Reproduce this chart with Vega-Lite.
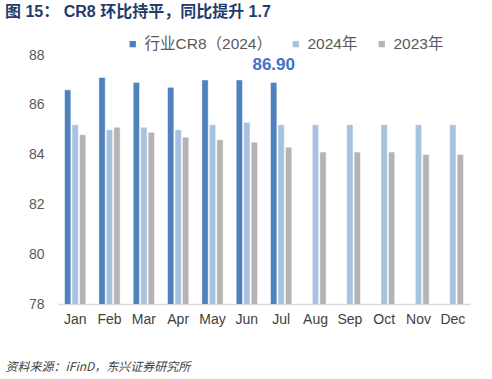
{
  "$schema": "https://vega.github.io/schema/vega-lite/v6.json",
  "autosize": "none",
  "width": 412,
  "height": 249,
  "padding": {"left": 58, "top": 55, "right": 22, "bottom": 75},
  "background": "white",
  "config": {
    "font": "Liberation Sans, Noto Sans CJK SC",
    "view": {"stroke": null}
  },
  "title": {
    "text": "图 15：  CR8 环比持平，同比提升 1.7",
    "anchor": "start",
    "frame": "group",
    "font": "Liberation Sans, Noto Sans CJK SC",
    "fontSize": 16,
    "fontWeight": "bold",
    "color": "#1f3c6e",
    "dx": -53,
    "offset": 16
  },
  "data": {
    "values": [
      {"month": "Jan", "series": "行业CR8（2024）", "value": 86.6},
      {"month": "Jan", "series": "2024年", "value": 85.2},
      {"month": "Jan", "series": "2023年", "value": 84.8},
      {"month": "Feb", "series": "行业CR8（2024）", "value": 87.1},
      {"month": "Feb", "series": "2024年", "value": 85.0},
      {"month": "Feb", "series": "2023年", "value": 85.1},
      {"month": "Mar", "series": "行业CR8（2024）", "value": 86.9},
      {"month": "Mar", "series": "2024年", "value": 85.1},
      {"month": "Mar", "series": "2023年", "value": 84.9},
      {"month": "Apr", "series": "行业CR8（2024）", "value": 86.7},
      {"month": "Apr", "series": "2024年", "value": 85.0},
      {"month": "Apr", "series": "2023年", "value": 84.7},
      {"month": "May", "series": "行业CR8（2024）", "value": 87.0},
      {"month": "May", "series": "2024年", "value": 85.2},
      {"month": "May", "series": "2023年", "value": 84.6},
      {"month": "Jun", "series": "行业CR8（2024）", "value": 87.0},
      {"month": "Jun", "series": "2024年", "value": 85.3},
      {"month": "Jun", "series": "2023年", "value": 84.5},
      {"month": "Jul", "series": "行业CR8（2024）", "value": 86.9},
      {"month": "Jul", "series": "2024年", "value": 85.2},
      {"month": "Jul", "series": "2023年", "value": 84.3},
      {"month": "Aug", "series": "2024年", "value": 85.2},
      {"month": "Aug", "series": "2023年", "value": 84.1},
      {"month": "Sep", "series": "2024年", "value": 85.2},
      {"month": "Sep", "series": "2023年", "value": 84.1},
      {"month": "Oct", "series": "2024年", "value": 85.2},
      {"month": "Oct", "series": "2023年", "value": 84.1},
      {"month": "Nov", "series": "2024年", "value": 85.2},
      {"month": "Nov", "series": "2023年", "value": 84.0},
      {"month": "Dec", "series": "2024年", "value": 85.2},
      {"month": "Dec", "series": "2023年", "value": 84.0}
    ]
  },
  "encoding": {
    "x": {
      "field": "month",
      "type": "nominal",
      "sort": ["Jan","Feb","Mar","Apr","May","Jun","Jul","Aug","Sep","Oct","Nov","Dec"],
      "scale": {"paddingInner": 0.38, "paddingOuter": 0.19},
      "axis": {
        "labelAngle": 0,
        "labelFontSize": 14,
        "labelColor": "#404040",
        "labelPadding": 8,
        "ticks": false,
        "domainColor": "#d9d9d9",
        "domainWidth": 1.5,
        "title": "资料来源：iFinD，东兴证券研究所",
        "titleFont": "Noto Sans CJK SC",
        "titleFontStyle": "italic",
        "titleFontWeight": "normal",
        "titleFontSize": 12,
        "titleColor": "#404040",
        "titleAnchor": "start",
        "titleAlign": "left",
        "titleBaseline": "alphabetic",
        "titleX": -53,
        "titleY": 66
      }
    },
    "xOffset": {
      "field": "series",
      "type": "nominal",
      "sort": ["行业CR8（2024）", "2024年", "2023年"],
      "scale": {"paddingInner": 0.15}
    },
    "y": {
      "field": "value",
      "type": "quantitative",
      "scale": {"domain": [78, 88], "zero": false, "nice": false},
      "axis": {
        "values": [78, 80, 82, 84, 86, 88],
        "grid": false,
        "domain": false,
        "ticks": false,
        "labelFontSize": 14,
        "labelColor": "#595959",
        "labelPadding": 14,
        "title": null
      }
    }
  },
  "layer": [
    {
      "mark": {"type": "bar", "stroke": "white", "strokeWidth": 0.5, "clip": true},
      "encoding": {
        "color": {
          "field": "series",
          "type": "nominal",
          "sort": ["行业CR8（2024）", "2024年", "2023年"],
          "scale": {
            "domain": ["行业CR8（2024）", "2024年", "2023年"],
            "range": ["#4f81bd", "#a7c2e0", "#b4b4b4"]
          },
          "legend": {
            "orient": "none",
            "legendX": 67,
            "legendY": -19,
            "direction": "horizontal",
            "title": null,
            "symbolType": "square",
            "symbolSize": 40,
            "symbolStrokeWidth": 0,
            "labelFontSize": 15.5,
            "labelColor": "#595959",
            "labelFont": "Liberation Sans, Noto Sans CJK SC",
            "columnPadding": 16,
            "labelOffset": 4
          }
        }
      }
    },
    {
      "transform": [
        {"filter": "datum.month === 'Jul' && datum.series === '行业CR8（2024）'"}
      ],
      "mark": {
        "type": "text",
        "baseline": "bottom",
        "dy": -8,
        "fontSize": 17,
        "fontWeight": "bold",
        "color": "#4472c4"
      },
      "encoding": {
        "text": {"field": "value", "type": "quantitative", "format": ".2f"}
      }
    }
  ]
}
